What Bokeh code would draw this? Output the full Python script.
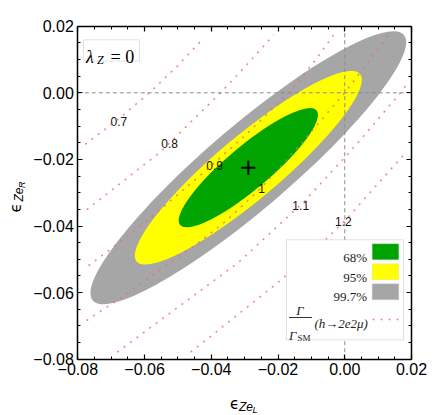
import numpy as np
from bokeh.plotting import figure
from bokeh.models import (Range1d, LinearAxis, FixedTicker, CustomJSTickFormatter,
                          Label, BoxAnnotation, ColumnDataSource)
from bokeh.embed import file_html
from bokeh.resources import INLINE
from bokeh.core.properties import value

# ---------------- data ----------------
x_ticks = [-0.08, -0.06, -0.04, -0.02, 0.00, 0.02]
y_ticks = [-0.08, -0.06, -0.04, -0.02, 0.00, 0.02]
minor_ticks = [-0.075, -0.07, -0.065, -0.055, -0.05, -0.045, -0.035, -0.03, -0.025,
               -0.015, -0.01, -0.005, 0.005, 0.01, 0.015]
zero_line = 0.0

best_fit_x = [-0.0289]
best_fit_y = [-0.0225]

cl_names = ["99.7%", "95%", "68%"]
cl_colors = ["#a6a6a6", "#ffff00", "#00a400"]
ell_major = [0.1226, 0.0874, 0.0534]   # full axis lengths
ell_minor = [0.0250, 0.0190, 0.0130]
ell_angle = [40.5, 40.0, 40.0]          # degrees

# ratio contours Gamma/Gamma_SM (dotted red lines)
c07_x = [-0.0778, -0.0680, -0.0585, -0.0500, -0.0423]
c07_y = [-0.0155, -0.0080, 0.0000, 0.0082, 0.0164]
c08_x = [-0.0773, -0.0553, -0.0372, -0.0290, -0.0213]
c08_y = [-0.0351, -0.0178, 0.0000, 0.0088, 0.0174]
c09_x = [-0.0768, -0.0648, -0.0538, -0.0410, -0.0290, -0.0168, -0.0098, -0.0028]
c09_y = [-0.0519, -0.0429, -0.0338, -0.0228, -0.0120, 0.0000, 0.0085, 0.0181]
c10_x = [-0.0774, -0.0648, -0.0523, -0.0442, -0.0350, -0.0250, -0.0125, 0.0000, 0.0137]
c10_y = [-0.0684, -0.0601, -0.0509, -0.0453, -0.0380, -0.0285, -0.0146, 0.0000, 0.0181]
c11_x = [-0.0682, -0.0318, -0.0124, 0.0000, 0.0041, 0.0167, 0.0182]
c11_y = [-0.0779, -0.0509, -0.0329, -0.0194, -0.0148, 0.0000, 0.0020]
c12_x = [-0.0462, -0.0199, -0.0064, 0.0000, 0.0182]
c12_y = [-0.0779, -0.0569, -0.0447, -0.0385, -0.0180]

lbl_text = ["0.7", "0.8", "0.9", "1", "1.1", "1.2"]
lbl_x = [-0.0677, -0.0525, -0.0390, -0.0249, -0.0132, -0.0004]
lbl_y = [-0.0085, -0.0151, -0.0217, -0.0286, -0.0338, -0.0386]

# ---------------- figure geometry ----------------
XMIN, XMAX, YMIN, YMAX = -0.08, 0.02, -0.08, 0.02
W, H = 431, 414              # canvas size (frame covers the whole canvas)
BOX_L, BOX_T = 77.3, 25.7    # pixel position of the plotting box
PPX = 3337.0                 # pixels per data unit (x)
PPY = 3330.0                 # pixels per data unit (y)
xr0 = XMIN - BOX_L / PPX
xr1 = xr0 + W / PPX
yr1 = YMAX + BOX_T / PPY
yr0 = yr1 - H / PPY

p = figure(x_range=Range1d(xr0, xr1), y_range=Range1d(yr0, yr1),
           frame_width=W, frame_height=H, min_border=0,
           x_axis_location=None, y_axis_location=None,
           toolbar_location=None, output_backend="svg")
p.grid.visible = False
p.background_fill_color = "white"
p.border_fill_color = "white"
p.outline_line_color = None


def X(px):  # canvas pixel -> data x (annotation placement)
    return xr0 + px / PPX


def Y(py):  # canvas pixel -> data y (annotation placement)
    return yr1 - py / PPY


fmt = CustomJSTickFormatter(code="return (tick < -1e-9 ? '\u2212' : '') + Math.abs(tick).toFixed(2);")


def make_axis(ticks, loc, bounds, labels=True):
    ax = LinearAxis(fixed_location=loc, bounds=bounds)
    ax.ticker = FixedTicker(ticks=ticks, minor_ticks=minor_ticks)
    ax.formatter = fmt
    ax.axis_line_color = "black"
    ax.axis_line_width = 1.5
    ax.major_tick_in = 5
    ax.major_tick_out = 0
    ax.minor_tick_in = 3
    ax.minor_tick_out = 0
    ax.major_tick_line_color = "black"
    ax.minor_tick_line_color = "black"
    ax.major_tick_line_width = 1.2
    ax.minor_tick_line_width = 1
    ax.major_label_standoff = 4
    if labels:
        ax.major_label_text_font = "Liberation Sans"
        ax.major_label_text_font_size = "16px"
        ax.major_label_text_color = "black"
    else:
        ax.major_label_text_font_size = "0px"
        ax.major_label_text_color = None
    return ax


# confidence regions
ell_src = ColumnDataSource(dict(x=best_fit_x * 3, y=best_fit_y * 3, w=ell_major, h=ell_minor,
                                a=ell_angle, c=cl_colors))
p.ellipse(x="x", y="y", width="w", height="h", angle="a", angle_units="deg",
          fill_color="c", line_color=None, source=ell_src)

# dashed zero lines
p.segment(x0=[zero_line, XMIN], y0=[YMIN, zero_line], x1=[zero_line, XMAX], y1=[YMAX, zero_line],
          line_color="#8c8c8c", line_dash="4 3", line_width=1)

# ratio contours
RED = "#f06a6a"
DOT = "2 6"
p.multi_line(xs=[c07_x, c08_x, c09_x, c10_x, c11_x, c12_x],
             ys=[c07_y, c08_y, c09_y, c10_y, c11_y, c12_y],
             line_color=RED, line_width=1.6, line_dash=DOT, line_alpha=0.8)
p.text(x=lbl_x, y=lbl_y, text=lbl_text, text_font=value("Liberation Sans"),
       text_font_size="12px", text_align="center", text_baseline="middle", text_color="#111111")

# best fit point
p.scatter(x=best_fit_x, y=best_fit_y, marker="cross", size=14, line_width=2, line_color="black")

# frame axes (ticks on all four sides, labels on left and bottom)
p.add_layout(make_axis(x_ticks, YMIN, (XMIN, XMAX)), "below")
p.add_layout(make_axis(y_ticks, XMIN, (YMIN, YMAX)), "left")
p.add_layout(make_axis(x_ticks, YMAX, (XMIN, XMAX), labels=False), "above")
p.add_layout(make_axis(y_ticks, XMAX, (YMIN, YMAX), labels=False), "right")

# lambda_Z box
p.add_layout(BoxAnnotation(left=X(83), right=X(139), top=Y(39.3), bottom=Y(60.5),
                           fill_color="white", fill_alpha=1, line_color="#a0a0a0", line_width=1))
p.add_layout(Label(x=X(85.5), y=Y(56.7), text="λ", text_font="Liberation Serif", text_font_style="italic",
                   text_font_size="18px", text_baseline="alphabetic", text_color="black"))
p.add_layout(Label(x=X(96.5), y=Y(59.5), text="Z", text_font="Liberation Serif", text_font_style="italic",
                   text_font_size="12px", text_baseline="alphabetic", text_color="black"))
p.add_layout(Label(x=X(110), y=Y(56.7), text="= 0", text_font="Liberation Serif",
                   text_font_size="18px", text_baseline="alphabetic", text_color="black"))

# legend
p.add_layout(BoxAnnotation(left=X(286), right=X(403), top=Y(239.3), bottom=Y(339.3),
                           fill_color="white", fill_alpha=1, line_color="#9a9a9a", line_width=1))
sw_tops = [283.3, 263.3, 243.3]
txt_base = [296.0, 276.5, 256.5]
for name, col, t, b in zip(cl_names, cl_colors, sw_tops, txt_base):
    p.add_layout(BoxAnnotation(left=X(371.7), right=X(398.3), top=Y(t), bottom=Y(t + 16),
                               fill_color=col, fill_alpha=1, line_color="#d0d0d0", line_width=1))
    p.add_layout(Label(x=X(366.5), y=Y(b), text=name, text_font="Liberation Serif",
                       text_font_size="13px", text_align="right", text_baseline="alphabetic",
                       text_color="#222222"))
# fraction Gamma / Gamma_SM (h -> 2e2mu)
p.add_layout(Label(x=X(299.5), y=Y(310), text="Γ", text_font="Liberation Serif", text_font_style="italic",
                   text_font_size="13px", text_align="center", text_baseline="alphabetic", text_color="#222222"))
p.add_layout(BoxAnnotation(left=X(288.5), right=X(311.5), top=Y(316.6), bottom=Y(317.6),
                           fill_color="#333333", fill_alpha=1, line_color=None))
p.add_layout(Label(x=X(288.5), y=Y(334.5), text="Γ", text_font="Liberation Serif", text_font_style="italic",
                   text_font_size="13px", text_baseline="alphabetic", text_color="#222222"))
p.add_layout(Label(x=X(297), y=Y(337.5), text="SM", text_font="Liberation Serif",
                   text_font_size="9px", text_baseline="alphabetic", text_color="#222222"))
p.add_layout(Label(x=X(314), y=Y(322.5), text="(h→2e2μ)", text_font="Liberation Serif",
                   text_font_style="italic", text_font_size="13px", text_baseline="alphabetic",
                   text_color="#222222"))
sample = p.line(x=[X(372), X(398)], y=[Y(319), Y(319)], line_color=RED, line_width=1.6,
                line_dash=DOT, line_alpha=0.8)
sample.level = "overlay"

# axis titles (epsilon with nested subscripts)
p.add_layout(Label(x=X(229.5), y=Y(403), text="ϵ", text_font="DejaVu Sans",
                   text_font_size="15px", text_baseline="alphabetic", text_color="black"))
p.add_layout(Label(x=X(238.5), y=Y(406.5), text="Ze", text_font="Liberation Sans", text_font_style="italic",
                   text_font_size="12px", text_baseline="alphabetic", text_color="black"))
p.add_layout(Label(x=X(252), y=Y(409), text="L", text_font="Liberation Sans", text_font_style="italic",
                   text_font_size="9px", text_baseline="alphabetic", text_color="black"))

p.add_layout(Label(x=X(15.5), y=Y(212), text="ϵ", text_font="DejaVu Sans", angle=np.pi / 2,
                   text_font_size="15px", text_baseline="alphabetic", text_color="black"))
p.add_layout(Label(x=X(18.5), y=Y(201), text="Ze", text_font="Liberation Sans", text_font_style="italic",
                   angle=np.pi / 2, text_font_size="12px", text_baseline="alphabetic", text_color="black"))
p.add_layout(Label(x=X(21.5), y=Y(187.5), text="R", text_font="Liberation Sans", text_font_style="italic",
                   angle=np.pi / 2, text_font_size="9px", text_baseline="alphabetic", text_color="black"))

open("out.html", "w").write(file_html(p, INLINE))
